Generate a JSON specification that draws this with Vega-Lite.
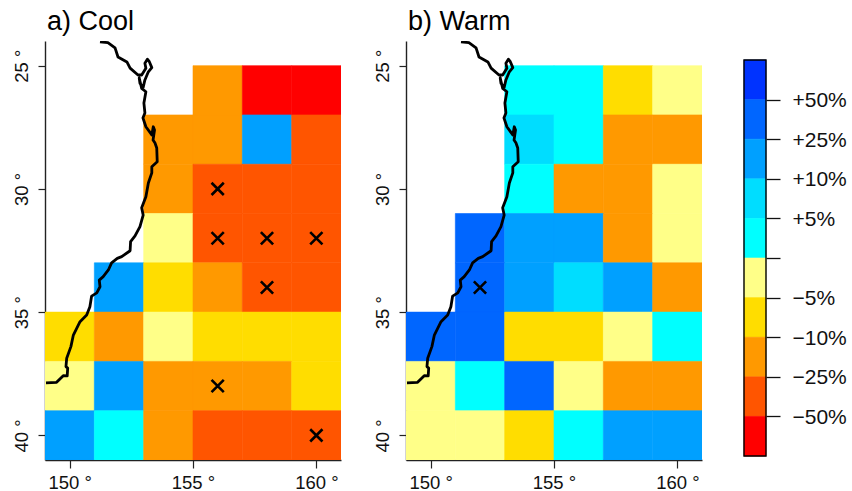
{"$schema":"https://vega.github.io/schema/vega-lite/v6.json","background":"white","padding":{"left":12,"top":8,"right":0,"bottom":0},"spacing":41,
"config":{"view":{"stroke":null},"font":"Liberation Sans",
"axis":{"grid":false,"labelFont":"Liberation Sans","labelFontSize":18.5,"labelColor":"#111","domainColor":"#222","tickColor":"#222","domainWidth":1.4,"tickWidth":1.2,"tickSize":8,"title":null},
"title":{"font":"Liberation Sans","fontSize":27,"fontWeight":"normal","anchor":"start","color":"#000","offset":5,"frame":"group","dx":2}},
"datasets":{
"cells":[
{"panel":"a","lon0":155,"lon1":157,"lat0":25,"lat1":27,"cls":"N25"},{"panel":"a","lon0":157,"lon1":159,"lat0":25,"lat1":27,"cls":"N50"},{"panel":"a","lon0":159,"lon1":161,"lat0":25,"lat1":27,"cls":"N50"},
{"panel":"a","lon0":153,"lon1":155,"lat0":27,"lat1":29,"cls":"N25"},{"panel":"a","lon0":155,"lon1":157,"lat0":27,"lat1":29,"cls":"N25"},{"panel":"a","lon0":157,"lon1":159,"lat0":27,"lat1":29,"cls":"P10"},{"panel":"a","lon0":159,"lon1":161,"lat0":27,"lat1":29,"cls":"N40"},
{"panel":"a","lon0":153,"lon1":155,"lat0":29,"lat1":31,"cls":"N25"},{"panel":"a","lon0":155,"lon1":157,"lat0":29,"lat1":31,"cls":"N40"},{"panel":"a","lon0":157,"lon1":159,"lat0":29,"lat1":31,"cls":"N40"},{"panel":"a","lon0":159,"lon1":161,"lat0":29,"lat1":31,"cls":"N40"},
{"panel":"a","lon0":153,"lon1":155,"lat0":31,"lat1":33,"cls":"N0"},{"panel":"a","lon0":155,"lon1":157,"lat0":31,"lat1":33,"cls":"N40"},{"panel":"a","lon0":157,"lon1":159,"lat0":31,"lat1":33,"cls":"N40"},{"panel":"a","lon0":159,"lon1":161,"lat0":31,"lat1":33,"cls":"N40"},
{"panel":"a","lon0":151,"lon1":153,"lat0":33,"lat1":35,"cls":"P10"},{"panel":"a","lon0":153,"lon1":155,"lat0":33,"lat1":35,"cls":"N5"},{"panel":"a","lon0":155,"lon1":157,"lat0":33,"lat1":35,"cls":"N25"},{"panel":"a","lon0":157,"lon1":159,"lat0":33,"lat1":35,"cls":"N40"},{"panel":"a","lon0":159,"lon1":161,"lat0":33,"lat1":35,"cls":"N40"},
{"panel":"a","lon0":149,"lon1":151,"lat0":35,"lat1":37,"cls":"N5"},{"panel":"a","lon0":151,"lon1":153,"lat0":35,"lat1":37,"cls":"N25"},{"panel":"a","lon0":153,"lon1":155,"lat0":35,"lat1":37,"cls":"N0"},{"panel":"a","lon0":155,"lon1":157,"lat0":35,"lat1":37,"cls":"N5"},{"panel":"a","lon0":157,"lon1":159,"lat0":35,"lat1":37,"cls":"N5"},{"panel":"a","lon0":159,"lon1":161,"lat0":35,"lat1":37,"cls":"N5"},
{"panel":"a","lon0":149,"lon1":151,"lat0":37,"lat1":39,"cls":"N0"},{"panel":"a","lon0":151,"lon1":153,"lat0":37,"lat1":39,"cls":"P10"},{"panel":"a","lon0":153,"lon1":155,"lat0":37,"lat1":39,"cls":"N25"},{"panel":"a","lon0":155,"lon1":157,"lat0":37,"lat1":39,"cls":"N25"},{"panel":"a","lon0":157,"lon1":159,"lat0":37,"lat1":39,"cls":"N25"},{"panel":"a","lon0":159,"lon1":161,"lat0":37,"lat1":39,"cls":"N5"},
{"panel":"a","lon0":149,"lon1":151,"lat0":39,"lat1":41,"cls":"P10"},{"panel":"a","lon0":151,"lon1":153,"lat0":39,"lat1":41,"cls":"P0"},{"panel":"a","lon0":153,"lon1":155,"lat0":39,"lat1":41,"cls":"N25"},{"panel":"a","lon0":155,"lon1":157,"lat0":39,"lat1":41,"cls":"N40"},{"panel":"a","lon0":157,"lon1":159,"lat0":39,"lat1":41,"cls":"N40"},{"panel":"a","lon0":159,"lon1":161,"lat0":39,"lat1":41,"cls":"N40"},
{"panel":"b","lon0":153,"lon1":155,"lat0":25,"lat1":27,"cls":"P0"},{"panel":"b","lon0":155,"lon1":157,"lat0":25,"lat1":27,"cls":"P0"},{"panel":"b","lon0":157,"lon1":159,"lat0":25,"lat1":27,"cls":"N5"},{"panel":"b","lon0":159,"lon1":161,"lat0":25,"lat1":27,"cls":"N0"},
{"panel":"b","lon0":153,"lon1":155,"lat0":27,"lat1":29,"cls":"P5"},{"panel":"b","lon0":155,"lon1":157,"lat0":27,"lat1":29,"cls":"P0"},{"panel":"b","lon0":157,"lon1":159,"lat0":27,"lat1":29,"cls":"N25"},{"panel":"b","lon0":159,"lon1":161,"lat0":27,"lat1":29,"cls":"N25"},
{"panel":"b","lon0":153,"lon1":155,"lat0":29,"lat1":31,"cls":"P0"},{"panel":"b","lon0":155,"lon1":157,"lat0":29,"lat1":31,"cls":"N25"},{"panel":"b","lon0":157,"lon1":159,"lat0":29,"lat1":31,"cls":"N25"},{"panel":"b","lon0":159,"lon1":161,"lat0":29,"lat1":31,"cls":"N0"},
{"panel":"b","lon0":151,"lon1":153,"lat0":31,"lat1":33,"cls":"P25"},{"panel":"b","lon0":153,"lon1":155,"lat0":31,"lat1":33,"cls":"P10"},{"panel":"b","lon0":155,"lon1":157,"lat0":31,"lat1":33,"cls":"P10"},{"panel":"b","lon0":157,"lon1":159,"lat0":31,"lat1":33,"cls":"N25"},{"panel":"b","lon0":159,"lon1":161,"lat0":31,"lat1":33,"cls":"N0"},
{"panel":"b","lon0":151,"lon1":153,"lat0":33,"lat1":35,"cls":"P25"},{"panel":"b","lon0":153,"lon1":155,"lat0":33,"lat1":35,"cls":"P10"},{"panel":"b","lon0":155,"lon1":157,"lat0":33,"lat1":35,"cls":"P5"},{"panel":"b","lon0":157,"lon1":159,"lat0":33,"lat1":35,"cls":"P10"},{"panel":"b","lon0":159,"lon1":161,"lat0":33,"lat1":35,"cls":"N25"},
{"panel":"b","lon0":149,"lon1":151,"lat0":35,"lat1":37,"cls":"P25"},{"panel":"b","lon0":151,"lon1":153,"lat0":35,"lat1":37,"cls":"P25"},{"panel":"b","lon0":153,"lon1":155,"lat0":35,"lat1":37,"cls":"N5"},{"panel":"b","lon0":155,"lon1":157,"lat0":35,"lat1":37,"cls":"N5"},{"panel":"b","lon0":157,"lon1":159,"lat0":35,"lat1":37,"cls":"N0"},{"panel":"b","lon0":159,"lon1":161,"lat0":35,"lat1":37,"cls":"P0"},
{"panel":"b","lon0":149,"lon1":151,"lat0":37,"lat1":39,"cls":"N0"},{"panel":"b","lon0":151,"lon1":153,"lat0":37,"lat1":39,"cls":"P0"},{"panel":"b","lon0":153,"lon1":155,"lat0":37,"lat1":39,"cls":"P25"},{"panel":"b","lon0":155,"lon1":157,"lat0":37,"lat1":39,"cls":"N0"},{"panel":"b","lon0":157,"lon1":159,"lat0":37,"lat1":39,"cls":"N25"},{"panel":"b","lon0":159,"lon1":161,"lat0":37,"lat1":39,"cls":"N25"},
{"panel":"b","lon0":149,"lon1":151,"lat0":39,"lat1":41,"cls":"N0"},{"panel":"b","lon0":151,"lon1":153,"lat0":39,"lat1":41,"cls":"N0"},{"panel":"b","lon0":153,"lon1":155,"lat0":39,"lat1":41,"cls":"N5"},{"panel":"b","lon0":155,"lon1":157,"lat0":39,"lat1":41,"cls":"P0"},{"panel":"b","lon0":157,"lon1":159,"lat0":39,"lat1":41,"cls":"P10"},{"panel":"b","lon0":159,"lon1":161,"lat0":39,"lat1":41,"cls":"P10"}
],
"coast":[
{"s":1,"lon":151.23,"lat":24.03},{"s":2,"lon":151.55,"lat":24.07},{"s":3,"lon":151.84,"lat":24.28},{"s":4,"lon":151.96,"lat":24.65},{"s":5,"lon":152.32,"lat":24.85},{"s":6,"lon":152.45,"lat":25.10},{"s":7,"lon":152.77,"lat":25.38},{"s":8,"lon":152.92,"lat":25.38},{"s":9,"lon":153.09,"lat":25.11},{"s":10,"lon":153.05,"lat":24.90},{"s":11,"lon":153.15,"lat":24.74},{"s":12,"lon":153.23,"lat":24.84},{"s":13,"lon":153.33,"lat":25.08},{"s":14,"lon":153.19,"lat":25.25},{"s":15,"lon":153.05,"lat":25.58},{"s":16,"lon":152.98,"lat":25.88},{"s":17,"lon":152.85,"lat":25.72},{"s":18,"lon":152.82,"lat":25.50},{"s":19,"lon":152.92,"lat":25.92},{"s":20,"lon":153.09,"lat":26.06},{"s":21,"lon":153.01,"lat":26.52},{"s":22,"lon":153.05,"lat":26.92},{"s":23,"lon":152.97,"lat":27.12},{"s":24,"lon":153.09,"lat":27.48},{"s":25,"lon":153.33,"lat":27.81},{"s":26,"lon":153.39,"lat":27.48},{"s":27,"lon":153.44,"lat":27.61},{"s":28,"lon":153.38,"lat":28.02},{"s":29,"lon":153.46,"lat":28.14},{"s":30,"lon":153.53,"lat":28.34},{"s":31,"lon":153.55,"lat":28.90},{"s":32,"lon":153.33,"lat":29.10},{"s":33,"lon":153.33,"lat":29.35},{"s":34,"lon":153.19,"lat":29.76},{"s":35,"lon":153.09,"lat":30.32},{"s":36,"lon":152.92,"lat":30.77},{"s":37,"lon":152.98,"lat":31.06},{"s":38,"lon":152.85,"lat":31.53},{"s":39,"lon":152.65,"lat":31.91},{"s":40,"lon":152.47,"lat":32.14},{"s":41,"lon":152.45,"lat":32.51},{"s":42,"lon":152.11,"lat":32.75},{"s":43,"lon":151.93,"lat":32.82},{"s":44,"lon":151.70,"lat":33.00},{"s":45,"lon":151.57,"lat":33.29},{"s":46,"lon":151.36,"lat":33.56},{"s":47,"lon":151.20,"lat":33.70},{"s":48,"lon":151.23,"lat":33.97},{"s":49,"lon":151.10,"lat":34.22},{"s":50,"lon":150.89,"lat":34.35},{"s":51,"lon":150.82,"lat":34.78},{"s":52,"lon":150.69,"lat":35.12},{"s":53,"lon":150.42,"lat":35.39},{"s":54,"lon":150.15,"lat":35.93},{"s":55,"lon":150.05,"lat":36.40},{"s":56,"lon":149.88,"lat":36.87},{"s":57,"lon":149.85,"lat":37.21},{"s":58,"lon":149.92,"lat":37.27},{"s":59,"lon":149.90,"lat":37.59},{"s":60,"lon":149.74,"lat":37.58},{"s":61,"lon":149.47,"lat":37.85},{"s":62,"lon":149.04,"lat":37.87}
],
"sig":[
{"panel":"a","lon":156,"lat":30},{"panel":"a","lon":156,"lat":32},{"panel":"a","lon":158,"lat":32},{"panel":"a","lon":160,"lat":32},{"panel":"a","lon":158,"lat":34},{"panel":"a","lon":156,"lat":38},{"panel":"a","lon":160,"lat":40},{"panel":"b","lon":152,"lat":34}
],
"bar":[
{"lo":9,"hi":10,"cls":"P50"},{"lo":8,"hi":9,"cls":"P25"},{"lo":7,"hi":8,"cls":"P10"},{"lo":6,"hi":7,"cls":"P5"},{"lo":5,"hi":6,"cls":"P0"},{"lo":4,"hi":5,"cls":"N0"},{"lo":3,"hi":4,"cls":"N5"},{"lo":2,"hi":3,"cls":"N25"},{"lo":1,"hi":2,"cls":"N40"},{"lo":0,"hi":1,"cls":"N50"}
]},
"hconcat":[
{"hconcat":[
{"width":296,"height":419,"title":{"text":"a) Cool"},
"layer":[
{"data":{"name":"cells"},"transform":[{"filter":"datum.panel==='a'"}],"mark":{"type":"rect","clip":true,"strokeWidth":0.6},
"encoding":{"x":{"field":"lon0","type":"quantitative","scale":{"domain":[149,161],"nice":false,"zero":false},"axis":{"values":[150,155,160],"labelExpr":"datum.value+' °'","labelPadding":5}},"x2":{"field":"lon1"},
"y":{"field":"lat0","type":"quantitative","scale":{"domain":[24,41],"reverse":true,"nice":false,"zero":false},"axis":{"values":[25,30,35,40],"labelExpr":"datum.value+' °'","labelAngle":-90,"labelAlign":"center","labelBaseline":"bottom","labelPadding":7,"tickSize":7}},"y2":{"field":"lat1"},
"color":{"field":"cls","type":"nominal","legend":null,"scale":{"domain":["P50","P25","P10","P5","P0","N0","N5","N25","N40","N50"],"range":["#0033FF","#0066FF","#00A0FF","#00DDFF","#00FFFF","#FFFF88","#FFDD00","#FF9900","#FF5500","#FF0000"]}},
"stroke":{"field":"cls","type":"nominal","legend":null,"scale":{"domain":["P50","P25","P10","P5","P0","N0","N5","N25","N40","N50"],"range":["#0033FF","#0066FF","#00A0FF","#00DDFF","#00FFFF","#FFFF88","#FFDD00","#FF9900","#FF5500","#FF0000"]}}}},
{"data":{"name":"coast"},"mark":{"type":"line","color":"#000","strokeWidth":2.8,"clip":true,"strokeJoin":"round"},"encoding":{"x":{"field":"lon","type":"quantitative"},"y":{"field":"lat","type":"quantitative"},"order":{"field":"s"}}},
{"data":{"name":"sig"},"transform":[{"filter":"datum.panel==='a'"}],"mark":{"type":"point","shape":"M-1,-1L1,1M-1,1L1,-1","filled":false,"color":"#000","opacity":1,"strokeWidth":2.6,"size":150},"encoding":{"x":{"field":"lon","type":"quantitative"},"y":{"field":"lat","type":"quantitative"}}}
]},
{"width":296,"height":419,"title":{"text":"b) Warm"},
"layer":[
{"data":{"name":"cells"},"transform":[{"filter":"datum.panel==='b'"}],"mark":{"type":"rect","clip":true,"strokeWidth":0.6},
"encoding":{"x":{"field":"lon0","type":"quantitative","scale":{"domain":[149,161],"nice":false,"zero":false},"axis":{"values":[150,155,160],"labelExpr":"datum.value+' °'","labelPadding":5}},"x2":{"field":"lon1"},
"y":{"field":"lat0","type":"quantitative","scale":{"domain":[24,41],"reverse":true,"nice":false,"zero":false},"axis":{"values":[25,30,35,40],"labelExpr":"datum.value+' °'","labelAngle":-90,"labelAlign":"center","labelBaseline":"bottom","labelPadding":7,"tickSize":7}},"y2":{"field":"lat1"},
"color":{"field":"cls","type":"nominal","legend":null,"scale":{"domain":["P50","P25","P10","P5","P0","N0","N5","N25","N40","N50"],"range":["#0033FF","#0066FF","#00A0FF","#00DDFF","#00FFFF","#FFFF88","#FFDD00","#FF9900","#FF5500","#FF0000"]}},
"stroke":{"field":"cls","type":"nominal","legend":null,"scale":{"domain":["P50","P25","P10","P5","P0","N0","N5","N25","N40","N50"],"range":["#0033FF","#0066FF","#00A0FF","#00DDFF","#00FFFF","#FFFF88","#FFDD00","#FF9900","#FF5500","#FF0000"]}}}},
{"data":{"name":"coast"},"mark":{"type":"line","color":"#000","strokeWidth":2.8,"clip":true,"strokeJoin":"round"},"encoding":{"x":{"field":"lon","type":"quantitative"},"y":{"field":"lat","type":"quantitative"},"order":{"field":"s"}}},
{"data":{"name":"sig"},"transform":[{"filter":"datum.panel==='b'"}],"mark":{"type":"point","shape":"M-1,-1L1,1M-1,1L1,-1","filled":false,"color":"#000","opacity":1,"strokeWidth":2.6,"size":150},"encoding":{"x":{"field":"lon","type":"quantitative"},"y":{"field":"lat","type":"quantitative"}}}
]}
],"spacing":65,"bounds":"flush"},
{"width":22,"height":419,
"layer":[
{"data":{"name":"bar"},"mark":{"type":"rect","strokeWidth":0.6},
"encoding":{"y":{"field":"lo","type":"quantitative","scale":{"domain":[-0.1,10.48],"nice":false,"zero":false},"axis":{"orient":"right","values":[1,2,3,4,5,6,7,8,9],"domain":false,"tickSize":14,"labelPadding":12,"labelFontSize":21,"labelOffset":1,"tickColor":"#111","tickWidth":1.3,"labelColor":"#111","labelExpr":"{'9':'+50%','8':'+25%','7':'+10%','6':'+5%','5':'','4':'−5%','3':'−10%','2':'−25%','1':'−50%'}[datum.value]"}},"y2":{"field":"hi"},
"color":{"field":"cls","type":"nominal","legend":null,"scale":{"domain":["P50","P25","P10","P5","P0","N0","N5","N25","N40","N50"],"range":["#0033FF","#0066FF","#00A0FF","#00DDFF","#00FFFF","#FFFF88","#FFDD00","#FF9900","#FF5500","#FF0000"]}},
"stroke":{"field":"cls","type":"nominal","legend":null,"scale":{"domain":["P50","P25","P10","P5","P0","N0","N5","N25","N40","N50"],"range":["#0033FF","#0066FF","#00A0FF","#00DDFF","#00FFFF","#FFFF88","#FFDD00","#FF9900","#FF5500","#FF0000"]}}}},
{"data":{"values":[{"lo":0,"hi":10}]},"mark":{"type":"rect","filled":false,"stroke":"#000","strokeWidth":1.4},"encoding":{"y":{"field":"lo","type":"quantitative"},"y2":{"field":"hi"}}}
]}
]}
